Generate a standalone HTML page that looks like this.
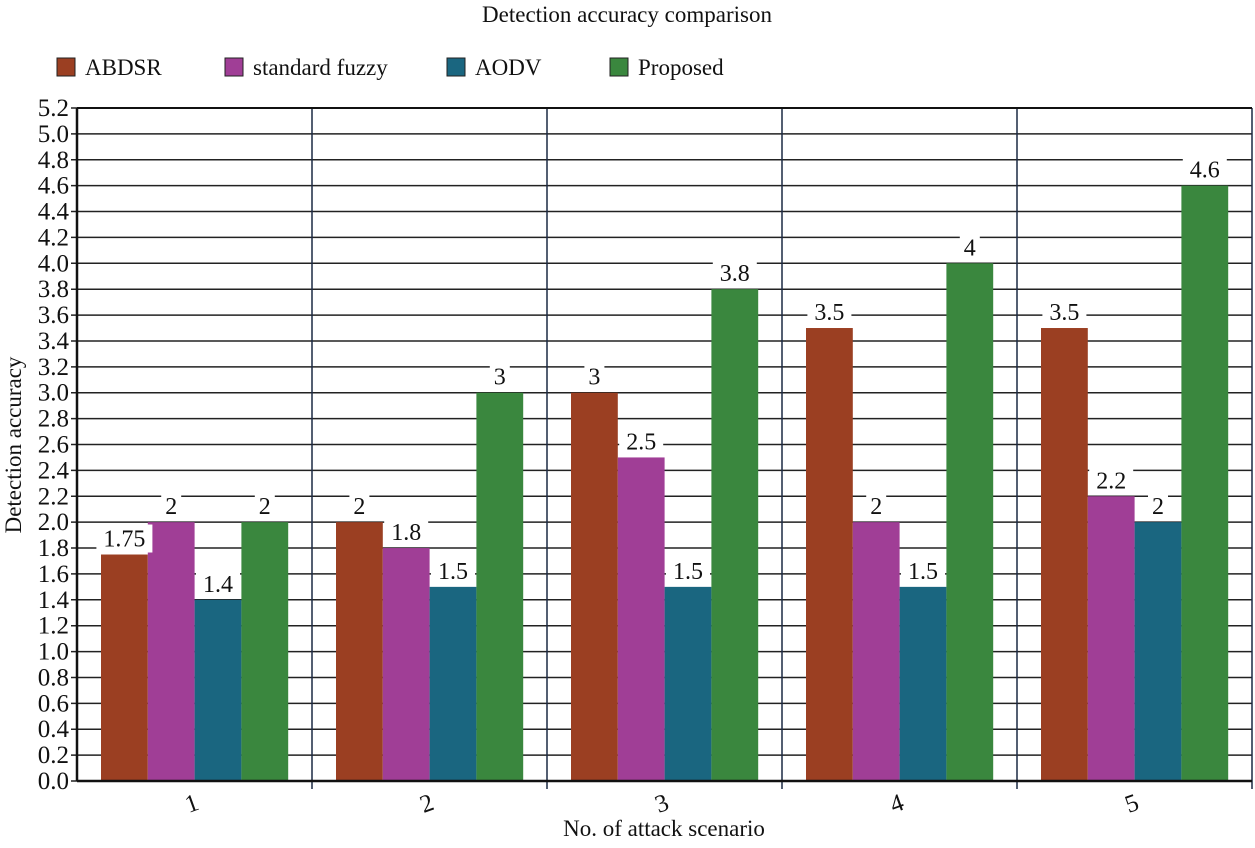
<!DOCTYPE html>
<html><head><meta charset="utf-8"><style>
html,body{margin:0;padding:0;background:#fff;}
svg text{font-family:"Liberation Serif","DejaVu Serif",serif !important;fill:#111;}
</style></head><body>
<svg id="chart" width="1255" height="843" viewBox="0 0 1255 843" font-family="Liberation Serif, DejaVu Serif, serif">
<text x="627" y="22" text-anchor="middle" font-size="23">Detection accuracy comparison</text>
<g id="legend"></g>
<g id="grid"></g>
<g id="bars"></g>
<g id="axes"></g>
<text transform="translate(21,445) rotate(-90)" text-anchor="middle" font-size="23">Detection accuracy</text>
<text x="664" y="836" text-anchor="middle" font-size="23">No. of attack scenario</text>
</svg>
<script>
const categories = ["1","2","3","4","5"];
const seriesNames = ["ABDSR","standard fuzzy","AODV","Proposed"];
const abdsr = [1.75,2,3,3.5,3.5];
const fuzzy = [2,1.8,2.5,2,2.2];
const aodv = [1.4,1.5,1.5,1.5,2];
const proposed = [2,3,3.8,4,4.6];
const valueLabels = [["1.75","2","3","3.5","3.5"],["2","1.8","2.5","2","2.2"],["1.4","1.5","1.5","1.5","2"],["2","3","3.8","4","4.6"]];
const yTicks = [0,0.2,0.4,0.6,0.8,1.0,1.2,1.4,1.6,1.8,2.0,2.2,2.4,2.6,2.8,3.0,3.2,3.4,3.6,3.8,4.0,4.2,4.4,4.6,4.8,5.0,5.2];

const colors = ["#9b3f22","#a03e96","#1a6680","#3a873e"];
const X0=77, X1=1252, Y0=781, Y1=108, YMAX=5.2;
const NS="http://www.w3.org/2000/svg";
const y = v => Y0 - v/YMAX*(Y0-Y1);
const gw = (X1-X0)/categories.length;
const x = i => X0 + i*gw;
const bw = 46.8;
function mk(tag, attrs, parent){const e=document.createElementNS(NS,tag);for(const k in attrs)e.setAttribute(k,attrs[k]);parent.appendChild(e);return e;}
const grid=document.getElementById('grid'), bars=document.getElementById('bars'), axes=document.getElementById('axes'), legend=document.getElementById('legend');

yTicks.forEach(t=>{
  const l=mk('line',{x1:X0-6,x2:X1,y1:y(t),y2:y(t),stroke:'#222','stroke-width':1.5},grid);
  
  
  const tx=mk('text',{x:X0-8,y:y(t)+8,'text-anchor':'end','font-size':25},axes);
  tx.textContent=t.toFixed(1);
  
  
});
categories.forEach((c,i)=>{
  const l=mk('line',{x1:x(i+1),x2:x(i+1),y1:Y1,y2:Y0+8,stroke:'#1c2a44','stroke-width':1.5},grid);
  
  
  const cx=x(i)+gw/2;
  const tx=mk('text',{x:0,y:0,'text-anchor':'middle','font-size':25,transform:`translate(${cx},${Y0+30}) rotate(-20)`},axes);
  tx.textContent=c;
  
  
});
const series=[abdsr,fuzzy,aodv,proposed];
series.forEach((s,si)=>{
  s.forEach((v,i)=>{
    const bx=x(i)+24+si*bw;
    const r=mk('rect',{x:bx,y:y(v),width:bw,height:Y0-y(v),fill:colors[si]},bars);
    
    
  });
});
series.forEach((s,si)=>{
  s.forEach((v,i)=>{
    const bx=x(i)+24+si*bw;
    const lab=valueLabels[si][i];
    const w=lab.length*12+8;
    const bg=mk('rect',{x:bx+bw/2-w/2,y:y(v)-30,width:w,height:28,fill:'#fff'},bars);
    
    
    const t=mk('text',{x:bx+bw/2,y:y(v)-8,'text-anchor':'middle','font-size':24},bars);
    t.textContent=lab;
    
    
  });
});
const la=mk('line',{x1:X0,x2:X0,y1:Y1,y2:Y0,stroke:'#111','stroke-width':2.5},axes);


const lb=mk('line',{x1:X0,x2:X1,y1:Y0,y2:Y0,stroke:'#111','stroke-width':2.5},axes);


const lt=mk('line',{x1:X0,x2:X1,y1:Y1,y2:Y1,stroke:'#111','stroke-width':2},axes);



const legX=[57,225,447,610];
seriesNames.forEach((n,i)=>{
  const r=mk('rect',{x:legX[i],y:58,width:18,height:18,fill:colors[i],stroke:'#222','stroke-width':1},legend);
  
  
  const t=mk('text',{x:legX[i]+28,y:75,'font-size':23},legend);
  t.textContent=n;
  
  
});
</script>
</body></html>
